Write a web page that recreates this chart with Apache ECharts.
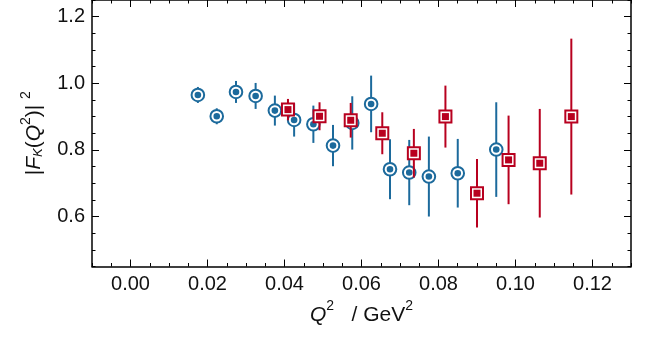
<!DOCTYPE html>
<html><head><meta charset="utf-8">
<script src="https://cdn.jsdelivr.net/npm/echarts@6/dist/echarts.min.js"></script>
<style>html,body{margin:0;padding:0;background:#fff}#c{width:654px;height:342px}</style>
</head><body><div id="c"></div>
<script>
const blueX = [0.0175,0.0224,0.0274,0.0325,0.0375,0.0425,0.0475,0.0526,0.0576,0.0625,0.0674,0.0724,0.0775,0.0850,0.0950];
const blueY = [0.965,0.901,0.974,0.962,0.918,0.890,0.877,0.813,0.881,0.938,0.742,0.732,0.720,0.730,0.801];
const blueErr = [0.024,0.024,0.033,0.039,0.045,0.050,0.056,0.062,0.080,0.085,0.090,0.098,0.120,0.103,0.142];
const redX = [0.0409,0.0491,0.0572,0.0654,0.0736,0.0818,0.0900,0.0982,0.1063,0.1145];
const redY = [0.921,0.901,0.889,0.850,0.790,0.900,0.670,0.770,0.760,0.900];
const redErr = [0.032,0.042,0.052,0.063,0.073,0.093,0.103,0.133,0.163,0.234];
const xTicks = [0,0.02,0.04,0.06,0.08,0.10,0.12];
const yTicks = [0.6,0.8,1.0,1.2];

const BLUE = '#1c6a9c', RED = '#b8001f';
const FONT = 'Liberation Sans, Arial, Helvetica, sans-serif';
const XMIN = -0.01, XMAX = 0.13, YMIN = 0.45, YMAX = 1.25;

const blueData = blueX.map((x,i)=>[x, blueY[i], blueErr[i]]);
const redData = redX.map((x,i)=>[x, redY[i], redErr[i]]);

function errRender(color){
  return function(params, api){
    const x = api.value(0), y = api.value(1), e = api.value(2);
    const t = api.coord([x, y+e]), b = api.coord([x, y-e]);
    return {type:'line', shape:{x1:t[0],y1:t[1],x2:b[0],y2:b[1]}, style:{stroke:color, lineWidth:2}};
  };
}
function blueMarker(params, api){
  const p = api.coord([api.value(0), api.value(1)]);
  return {type:'group', children:[
    {type:'circle', shape:{cx:p[0],cy:p[1],r:6.3}, style:{fill:'#fff', stroke:BLUE, lineWidth:2}},
    {type:'circle', shape:{cx:p[0],cy:p[1],r:3.3}, style:{fill:BLUE}}
  ]};
}
function redMarker(params, api){
  const p = api.coord([api.value(0), api.value(1)]);
  return {type:'group', children:[
    {type:'rect', shape:{x:p[0]-6,y:p[1]-6,width:12,height:12}, style:{fill:'#fff', stroke:RED, lineWidth:2}},
    {type:'rect', shape:{x:p[0]-3.5,y:p[1]-3.5,width:7,height:7}, style:{fill:RED}}
  ]};
}

const line = {show:true, onZero:false, lineStyle:{color:'#000', width:1.5}};
const noLine = {show:false, onZero:false};
const minorTick = {show:true, inside:true, length:3.5, lineStyle:{color:'#000', width:1}};
const majorTickX = {show:true, inside:true, length:7, customValues:xTicks, lineStyle:{color:'#000', width:1}};
const majorTickY = {show:true, inside:true, length:7, customValues:yTicks, lineStyle:{color:'#000', width:1}};
const noLabel = {show:false};
const labelStyle = {fontSize:20, color:'#111', fontFamily:FONT};

const supStyle = {fontSize:14, fontFamily:FONT, color:'#111', verticalAlign:'bottom', padding:[0,0,12,0], lineHeight:14};
const mainStyle = {fontSize:21, fontFamily:FONT, color:'#111', verticalAlign:'bottom', lineHeight:22};
const itStyle = Object.assign({}, mainStyle, {fontStyle:'italic'});
const subStyle = {fontSize:13, fontFamily:FONT, color:'#111', fontStyle:'italic', verticalAlign:'bottom', lineHeight:13, padding:[0,0,0,0]};

const chart = echarts.init(document.getElementById('c'), null, {renderer:'canvas'});
chart.setOption({
  animation:false,
  backgroundColor:'#fff',
  grid:{left:92, right:23, top:-3, bottom:75.5, containLabel:false},
  xAxis:[
    {type:'value', min:XMIN, max:XMAX, interval:0.005, position:'bottom', axisLine:line, axisTick:minorTick, axisLabel:noLabel, splitLine:{show:false}},
    {type:'value', min:XMIN, max:XMAX, position:'bottom', axisLine:noLine, axisTick:majorTickX,
      axisLabel:Object.assign({customValues:xTicks, margin:8, formatter:v=>v.toFixed(2)}, labelStyle), splitLine:{show:false},
      name:'{i|Q}{sup|2}{n|   / GeV}{sup|2}', nameLocation:'middle', nameGap:35,
      nameTextStyle:{rich:{i:itStyle, n:mainStyle, sup:supStyle}}},
    {type:'value', min:XMIN, max:XMAX, interval:0.005, position:'top', axisLine:line, axisTick:minorTick, axisLabel:noLabel, splitLine:{show:false}},
    {type:'value', min:XMIN, max:XMAX, position:'top', axisLine:noLine, axisTick:majorTickX, axisLabel:noLabel, splitLine:{show:false}}
  ],
  yAxis:[
    {type:'value', min:YMIN, max:YMAX, interval:0.05, position:'left', axisLine:line, axisTick:minorTick, axisLabel:noLabel, splitLine:{show:false}},
    {type:'value', min:YMIN, max:YMAX, position:'left', axisLine:noLine, axisTick:majorTickY,
      axisLabel:Object.assign({customValues:yTicks, margin:7, formatter:v=>v.toFixed(1)}, labelStyle), splitLine:{show:false},
      name:'{n||}{i|F}{sub|K}{n|(}{i|Q}{sup|2}{n|)|}{n| }{sup|2}', nameLocation:'middle', nameGap:47, nameRotate:90,
      nameTextStyle:{rich:{i:itStyle, n:mainStyle, sup:supStyle, sub:subStyle}}},
    {type:'value', min:YMIN, max:YMAX, interval:0.05, position:'right', axisLine:line, axisTick:minorTick, axisLabel:noLabel, splitLine:{show:false}},
    {type:'value', min:YMIN, max:YMAX, position:'right', axisLine:noLine, axisTick:majorTickY, axisLabel:noLabel, splitLine:{show:false}}
  ],
  series:[
    {type:'custom', name:'blueErr', xAxisIndex:0, yAxisIndex:0, data:blueData, renderItem:errRender(BLUE), encode:{x:0,y:1}},
    {type:'custom', name:'blue', xAxisIndex:0, yAxisIndex:0, data:blueData, renderItem:blueMarker, encode:{x:0,y:1}},
    {type:'custom', name:'redErr', xAxisIndex:0, yAxisIndex:0, data:redData, renderItem:errRender(RED), encode:{x:0,y:1}},
    {type:'custom', name:'red', xAxisIndex:0, yAxisIndex:0, data:redData, renderItem:redMarker, encode:{x:0,y:1}}
  ]
});
</script></body></html>
